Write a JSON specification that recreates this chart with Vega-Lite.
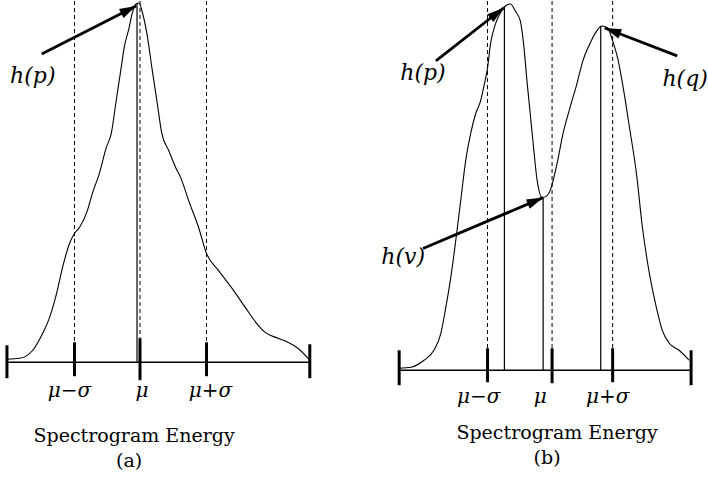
{
  "$schema": "https://vega.github.io/schema/vega-lite/v6.json",
  "width": 708,
  "height": 480,
  "autosize": {"type": "fit", "contains": "padding"},
  "padding": 0,
  "background": "white",
  "config": {"view": {"stroke": null}},
  "datasets": {
    "curve": [
      {"panel": "a", "i": 0, "x": 7, "y": 359}, {"panel": "a", "i": 1, "x": 20, "y": 358}, {"panel": "a", "i": 2, "x": 33, "y": 350},
      {"panel": "a", "i": 3, "x": 43, "y": 333}, {"panel": "a", "i": 4, "x": 50, "y": 317}, {"panel": "a", "i": 5, "x": 57, "y": 293},
      {"panel": "a", "i": 6, "x": 63, "y": 267}, {"panel": "a", "i": 7, "x": 70, "y": 243}, {"panel": "a", "i": 8, "x": 75, "y": 233},
      {"panel": "a", "i": 9, "x": 80, "y": 227}, {"panel": "a", "i": 10, "x": 88, "y": 210}, {"panel": "a", "i": 11, "x": 93, "y": 193},
      {"panel": "a", "i": 12, "x": 100, "y": 173}, {"panel": "a", "i": 13, "x": 107, "y": 147}, {"panel": "a", "i": 14, "x": 112, "y": 133},
      {"panel": "a", "i": 15, "x": 117, "y": 100}, {"panel": "a", "i": 16, "x": 122, "y": 67}, {"panel": "a", "i": 17, "x": 125, "y": 47},
      {"panel": "a", "i": 18, "x": 130, "y": 27}, {"panel": "a", "i": 19, "x": 133, "y": 13}, {"panel": "a", "i": 20, "x": 137, "y": 3},
      {"panel": "a", "i": 21, "x": 140, "y": 2}, {"panel": "a", "i": 22, "x": 143, "y": 10}, {"panel": "a", "i": 23, "x": 148, "y": 33},
      {"panel": "a", "i": 24, "x": 153, "y": 67}, {"panel": "a", "i": 25, "x": 158, "y": 100}, {"panel": "a", "i": 26, "x": 163, "y": 133},
      {"panel": "a", "i": 27, "x": 170, "y": 150}, {"panel": "a", "i": 28, "x": 177, "y": 167}, {"panel": "a", "i": 29, "x": 182, "y": 177},
      {"panel": "a", "i": 30, "x": 190, "y": 200}, {"panel": "a", "i": 31, "x": 200, "y": 227}, {"panel": "a", "i": 32, "x": 208, "y": 253},
      {"panel": "a", "i": 33, "x": 220, "y": 270}, {"panel": "a", "i": 34, "x": 233, "y": 287}, {"panel": "a", "i": 35, "x": 247, "y": 307},
      {"panel": "a", "i": 36, "x": 260, "y": 325}, {"panel": "a", "i": 37, "x": 267, "y": 332}, {"panel": "a", "i": 38, "x": 280, "y": 338},
      {"panel": "a", "i": 39, "x": 290, "y": 342}, {"panel": "a", "i": 40, "x": 300, "y": 348}, {"panel": "a", "i": 41, "x": 312, "y": 360},
      {"panel": "b", "i": 0, "x": 402, "y": 368}, {"panel": "b", "i": 1, "x": 414, "y": 367}, {"panel": "b", "i": 2, "x": 427, "y": 360},
      {"panel": "b", "i": 3, "x": 437, "y": 350}, {"panel": "b", "i": 4, "x": 444, "y": 333}, {"panel": "b", "i": 5, "x": 449, "y": 307},
      {"panel": "b", "i": 6, "x": 454, "y": 277}, {"panel": "b", "i": 7, "x": 459, "y": 240}, {"panel": "b", "i": 8, "x": 464, "y": 200},
      {"panel": "b", "i": 9, "x": 469, "y": 160}, {"panel": "b", "i": 10, "x": 474, "y": 133}, {"panel": "b", "i": 11, "x": 479, "y": 113},
      {"panel": "b", "i": 12, "x": 484, "y": 100}, {"panel": "b", "i": 13, "x": 487, "y": 87}, {"panel": "b", "i": 14, "x": 491, "y": 67},
      {"panel": "b", "i": 15, "x": 494, "y": 43}, {"panel": "b", "i": 16, "x": 499, "y": 23}, {"panel": "b", "i": 17, "x": 504, "y": 12},
      {"panel": "b", "i": 18, "x": 509, "y": 5}, {"panel": "b", "i": 19, "x": 514, "y": 3}, {"panel": "b", "i": 20, "x": 519, "y": 10},
      {"panel": "b", "i": 21, "x": 524, "y": 20}, {"panel": "b", "i": 22, "x": 527, "y": 40}, {"panel": "b", "i": 23, "x": 531, "y": 83},
      {"panel": "b", "i": 24, "x": 536, "y": 133}, {"panel": "b", "i": 25, "x": 541, "y": 180}, {"panel": "b", "i": 26, "x": 546, "y": 197},
      {"panel": "b", "i": 27, "x": 551, "y": 195}, {"panel": "b", "i": 28, "x": 554, "y": 190}, {"panel": "b", "i": 29, "x": 561, "y": 163},
      {"panel": "b", "i": 30, "x": 567, "y": 133}, {"panel": "b", "i": 31, "x": 574, "y": 107}, {"panel": "b", "i": 32, "x": 581, "y": 83},
      {"panel": "b", "i": 33, "x": 587, "y": 60}, {"panel": "b", "i": 34, "x": 594, "y": 43}, {"panel": "b", "i": 35, "x": 601, "y": 30},
      {"panel": "b", "i": 36, "x": 606, "y": 25}, {"panel": "b", "i": 37, "x": 612, "y": 27}, {"panel": "b", "i": 38, "x": 617, "y": 40},
      {"panel": "b", "i": 39, "x": 622, "y": 57}, {"panel": "b", "i": 40, "x": 627, "y": 83}, {"panel": "b", "i": 41, "x": 634, "y": 127},
      {"panel": "b", "i": 42, "x": 641, "y": 173}, {"panel": "b", "i": 43, "x": 647, "y": 227}, {"panel": "b", "i": 44, "x": 654, "y": 273},
      {"panel": "b", "i": 45, "x": 661, "y": 307}, {"panel": "b", "i": 46, "x": 667, "y": 330}, {"panel": "b", "i": 47, "x": 674, "y": 343},
      {"panel": "b", "i": 48, "x": 684, "y": 350}, {"panel": "b", "i": 49, "x": 694, "y": 360}
    ],
    "dashed": [
      {"x": 75, "y": 0, "y2": 342}, {"x": 141, "y": 0, "y2": 338}, {"x": 208, "y": 0, "y2": 342},
      {"x": 491, "y": 0, "y2": 348}, {"x": 556, "y": 0, "y2": 348}, {"x": 617, "y": 0, "y2": 348}
    ],
    "solid": [
      {"x": 138, "y": 3, "y2": 362}, {"x": 508, "y": 5, "y2": 370}, {"x": 547, "y": 198, "y2": 370}, {"x": 605, "y": 25, "y2": 370}
    ],
    "baseline": [
      {"x": 7, "x2": 312, "y": 362}, {"x": 402, "x2": 696, "y": 370}
    ],
    "ticks": [
      {"x": 7, "y": 345, "y2": 378}, {"x": 312, "y": 344, "y2": 378}, {"x": 75, "y": 342, "y2": 376}, {"x": 141, "y": 338, "y2": 380}, {"x": 208, "y": 342, "y2": 376},
      {"x": 402, "y": 350, "y2": 385}, {"x": 696, "y": 350, "y2": 385}, {"x": 491, "y": 348, "y2": 382}, {"x": 556, "y": 348, "y2": 383}, {"x": 617, "y": 348, "y2": 382}
    ],
    "arrows": [
      {"x": 42, "y": 53, "x2": 137, "y2": 5, "angle": 63},
      {"x": 439, "y": 60, "x2": 507, "y2": 7, "angle": 52},
      {"x": 682, "y": 55, "x2": 609, "y2": 27, "angle": 291},
      {"x": 426, "y": 248, "x2": 547, "y2": 197, "angle": 67}
    ],
    "hlabels": [
      {"x": 33, "y": 75, "t": "h(p)"}, {"x": 426, "y": 72, "t": "h(p)"}, {"x": 690, "y": 78, "t": "h(q)"}, {"x": 406, "y": 257, "t": "h(v)"}
    ],
    "mulabels": [
      {"x": 70, "y": 391, "t": "μ−σ"}, {"x": 143, "y": 391, "t": "μ"}, {"x": 212, "y": 391, "t": "μ+σ"},
      {"x": 482, "y": 397, "t": "μ−σ"}, {"x": 544, "y": 397, "t": "μ"}, {"x": 612, "y": 397, "t": "μ+σ"}
    ],
    "captions": [
      {"x": 135, "y": 436, "t": "Spectrogram Energy"}, {"x": 130, "y": 461, "t": "(a)"},
      {"x": 561, "y": 433, "t": "Spectrogram Energy"}, {"x": 551, "y": 458, "t": "(b)"}
    ]
  },
  "layer": [
    {
      "data": {"name": "dashed"},
      "mark": {"type": "rule", "stroke": "black", "strokeWidth": 1, "strokeDash": [4, 3]},
      "encoding": {
        "x": {"field": "x", "type": "quantitative", "axis": null, "scale": {"domain": [0, 708], "nice": false, "zero": false}},
        "y": {"field": "y", "type": "quantitative", "axis": null, "scale": {"domain": [0, 480], "nice": false, "zero": false, "reverse": true}},
        "y2": {"field": "y2"}
      }
    },
    {
      "data": {"name": "solid"},
      "mark": {"type": "rule", "stroke": "black", "strokeWidth": 1.2},
      "encoding": {
        "x": {"field": "x", "type": "quantitative"},
        "y": {"field": "y", "type": "quantitative"},
        "y2": {"field": "y2"}
      }
    },
    {
      "data": {"name": "baseline"},
      "mark": {"type": "rule", "stroke": "black", "strokeWidth": 1.5},
      "encoding": {
        "x": {"field": "x", "type": "quantitative"},
        "x2": {"field": "x2"},
        "y": {"field": "y", "type": "quantitative"}
      }
    },
    {
      "data": {"name": "ticks"},
      "mark": {"type": "rule", "stroke": "black", "strokeWidth": 3},
      "encoding": {
        "x": {"field": "x", "type": "quantitative"},
        "y": {"field": "y", "type": "quantitative"},
        "y2": {"field": "y2"}
      }
    },
    {
      "data": {"name": "curve"},
      "mark": {"type": "line", "stroke": "black", "strokeWidth": 1.1, "interpolate": "monotone"},
      "encoding": {
        "x": {"field": "x", "type": "quantitative"},
        "y": {"field": "y", "type": "quantitative"},
        "detail": {"field": "panel"},
        "order": {"field": "i", "type": "quantitative"}
      }
    },
    {
      "data": {"name": "arrows"},
      "mark": {"type": "rule", "stroke": "black", "strokeWidth": 2.8},
      "encoding": {
        "x": {"field": "x", "type": "quantitative"},
        "y": {"field": "y", "type": "quantitative"},
        "x2": {"field": "x2"},
        "y2": {"field": "y2"}
      }
    },
    {
      "data": {"name": "arrows"},
      "mark": {"type": "point", "shape": "M0,0L-0.3,1L0.3,1Z", "filled": true, "fill": "black", "stroke": null, "opacity": 1, "size": 1100},
      "encoding": {
        "x": {"field": "x2", "type": "quantitative"},
        "y": {"field": "y2", "type": "quantitative"},
        "angle": {"field": "angle", "type": "quantitative", "scale": null}
      }
    },
    {
      "data": {"name": "hlabels"},
      "mark": {"type": "text", "font": "DejaVu Serif", "fontStyle": "italic", "fontSize": 22, "align": "center", "baseline": "middle", "color": "black"},
      "encoding": {
        "x": {"field": "x", "type": "quantitative"},
        "y": {"field": "y", "type": "quantitative"},
        "text": {"field": "t"}
      }
    },
    {
      "data": {"name": "mulabels"},
      "mark": {"type": "text", "font": "DejaVu Serif", "fontStyle": "italic", "fontSize": 20, "align": "center", "baseline": "middle", "color": "black"},
      "encoding": {
        "x": {"field": "x", "type": "quantitative"},
        "y": {"field": "y", "type": "quantitative"},
        "text": {"field": "t"}
      }
    },
    {
      "data": {"name": "captions"},
      "mark": {"type": "text", "font": "DejaVu Serif", "fontSize": 19, "align": "center", "baseline": "middle", "color": "black"},
      "encoding": {
        "x": {"field": "x", "type": "quantitative"},
        "y": {"field": "y", "type": "quantitative"},
        "text": {"field": "t"}
      }
    }
  ]
}
